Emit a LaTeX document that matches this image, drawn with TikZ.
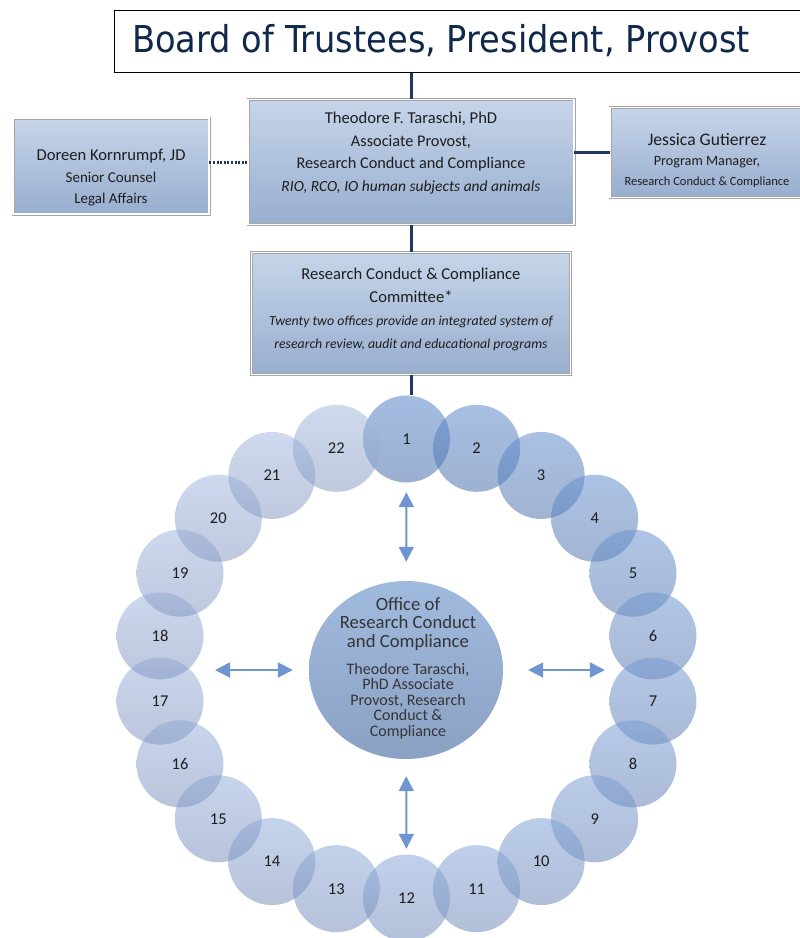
\documentclass[tikz,border=0pt]{standalone}
\usepackage{fontspec}
\setmainfont{Carlito}
\newfontfamily\boardfont[FakeStretch=0.91]{DejaVu Sans}
\usetikzlibrary{arrows.meta,calc,positioning,shapes.geometric}

\definecolor{navy}{RGB}{31,56,94}
\definecolor{boardtext}{RGB}{16,40,74}
\definecolor{boxtop}{RGB}{198,213,233}
\definecolor{boxbottom}{RGB}{152,174,207}
\definecolor{arrowblue}{RGB}{111,150,208}
\definecolor{ringtopdark}{RGB}{88,134,201}
\definecolor{ringtoplight}{RGB}{166,187,225}
\definecolor{ringbotdark}{RGB}{72,110,170}
\definecolor{ringbotlight}{RGB}{140,156,195}
\definecolor{officetop}{RGB}{160,186,222}
\definecolor{officebottom}{RGB}{139,161,196}
\definecolor{inktext}{RGB}{30,30,30}

\begin{document}
\begin{tikzpicture}[x=1pt,y=-1pt,>={Triangle[width=15pt,length=15pt]},
  org box/.style={rectangle,draw=black!35,double=white,double distance=1.6pt,
    line width=0.7pt,top color=boxtop,bottom color=boxbottom,inner sep=0pt},
  box text/.style={align=center,text=inktext,inner sep=0pt},
  ring node/.style={circle,minimum size=87pt,inner sep=0pt,fill opacity=0.55,
    text opacity=1,text=inktext,font=\fontsize{16.5}{18}\selectfont},
  link/.style={draw=navy,line width=3pt},
  flow/.style={<->,draw=arrowblue,line width=2pt}]

  \useasboundingbox (0,0) rectangle (800,938);

  \node[draw=black,line width=1.3pt,fill=white,anchor=north west,minimum height=62pt,
    minimum width=701pt] (board) at (114,10) {};
  \node[anchor=west,inner sep=0pt,text=boardtext,font=\boardfont\fontsize{37}{40}\selectfont]
    (boardtext) at (132,41) {Board of Trustees, President, Provost};

  \node[org box,minimum width=326pt,minimum height=125pt] (theo) at (411,162) {};
  \node[box text,font=\fontsize{16.3}{22.7}\selectfont] (theotext) at (411,153)
    {{\fontsize{16.6}{22.7}\selectfont Theodore F. Taraschi, PhD}\\
     Associate Provost,\\
     Research Conduct and Compliance\\
     {\itshape\fontsize{15.5}{22.7}\selectfont RIO, RCO, IO human subjects and animals}};

  \node[org box,minimum width=196pt,minimum height=96pt] (doreen) at (111,166) {};
  \node[box text,font=\fontsize{15}{21.5}\selectfont] (doreentext) at (111,178)
    {{\fontsize{16.6}{21.5}\selectfont Doreen Kornrumpf, JD}\\
     Senior Counsel\\
     Legal Affairs};

  \node[org box,minimum width=193pt,minimum height=90pt] (jess) at (706.5,152.5) {};
  \node[box text,font=\fontsize{14.2}{20}\selectfont] (jesstext) at (707,160)
    {{\fontsize{17.6}{20}\selectfont Jessica Gutierrez}\\
     Program Manager,\\
     {\fontsize{12.5}{20}\selectfont Research Conduct \& Compliance}};

  \node[org box,minimum width=319pt,minimum height=122pt] (committee) at (411,313.5) {};
  \node[box text,font=\fontsize{16.6}{23}\selectfont] (committeetext) at (411,309)
    {Research Conduct \& Compliance\\
     Committee*\\
     {\itshape\fontsize{13.8}{23}\selectfont Twenty two offices provide an integrated system of}\\
     {\itshape\fontsize{13.8}{23}\selectfont research review, audit and educational programs}};

  \foreach \i in {1,...,22}{
    \pgfmathsetmacro{\ang}{(\i-1)*360/22-90}
    \pgfmathtruncatemacro{\mix}{100*((22-\i)/21)^1.5}
    \node[ring node,top color=ringtopdark!\mix!ringtoplight,
      bottom color=ringbotdark!\mix!ringbotlight]
      (o\i) at ($(406.5,668.5)+(\ang:249 and 229.5)$) {\i};
  }

  \node[ellipse,minimum width=194pt,minimum height=178pt,inner sep=0pt,
    top color=officetop,bottom color=officebottom] (office) at (406,670) {};
  \node[box text,text=inktext!90,font=\fontsize{18.7}{18.8}\selectfont] (officehead) at (408,624)
    {Office of\\ Research Conduct\\ and Compliance};
  \node[box text,text=inktext!90,font=\fontsize{16}{15.6}\selectfont] (officebody) at (408,701)
    {Theodore Taraschi,\\ PhD Associate\\ Provost, Research\\ Conduct \&\\ Compliance};

  \coordinate (ringwest) at (o17 |- office);
  \coordinate (ringeast) at (o7 |- office);

  \draw[link] (theo.north) -- (theo.north |- board.south);
  \draw[link] (theo.south) -- (committee.north);
  \draw[link] (committee.south) -- (committee.south |- o1.north);
  \draw[link] (theo.east |- jess.west) -- (jess.west);
  \draw[link,dash pattern=on 2pt off 1.6pt] (doreen.east |- theo.west) -- (theo.west);

  \draw[flow,shorten <=9.5pt,shorten >=19pt] (o1) -- (office);
  \draw[flow,shorten <=17pt,shorten >=5.5pt] (office) -- (o12);
  \draw[flow,shorten <=55pt,shorten >=16pt] (ringwest) -- (office.west);
  \draw[flow,shorten <=25pt,shorten >=48pt] (office.east) -- (ringeast);
\end{tikzpicture}
\end{document}
